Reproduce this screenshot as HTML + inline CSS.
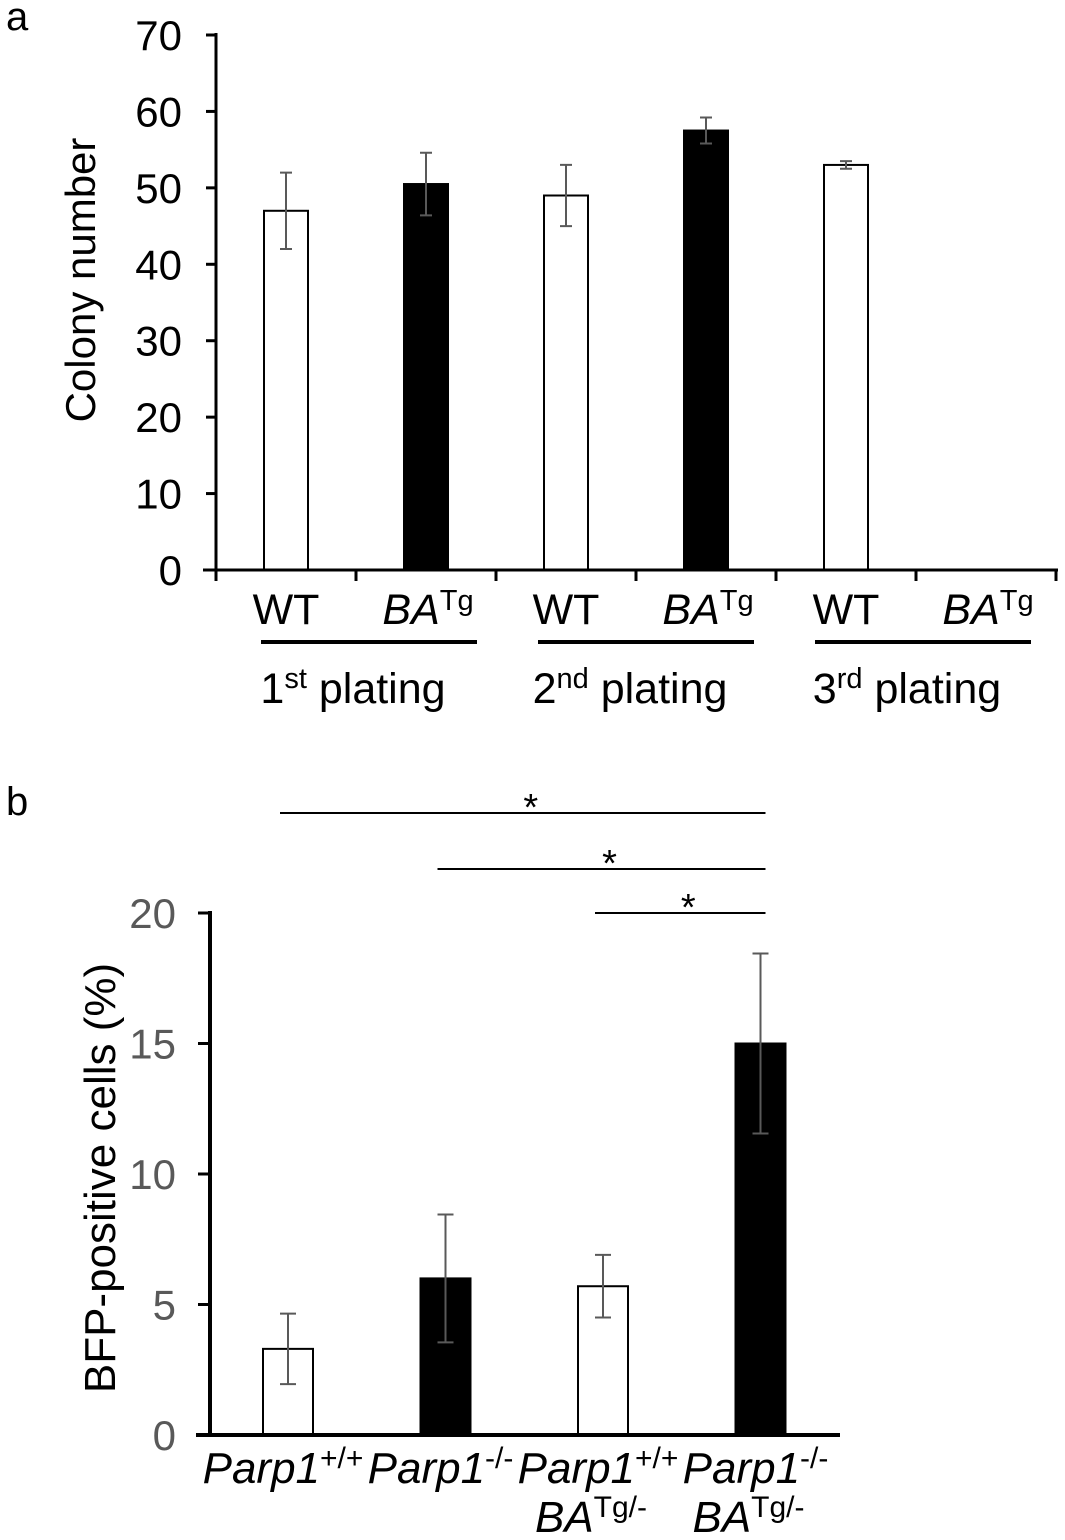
<!DOCTYPE html>
<html><head><meta charset="utf-8"><style>
body{margin:0;background:#fff;}
svg{display:block;font-family:"Liberation Sans",Arial,sans-serif;}
</style></head><body>
<svg width="1065" height="1540" viewBox="0 0 1065 1540">
<g id="pa"></g>
<g id="pb"></g>
</svg>
<script>
const aCats = ["WT","BA","WT","BA","WT","BA"];
const aVals = [47, 50.5, 49, 57.5, 53, 0];
const aErr = [5, 4.1, 4, 1.7, 0.5, 0];
const aFill = ["#fff","#000","#fff","#000","#fff","#000"];
const aTicks = [0,10,20,30,40,50,60,70];
const aGroups = ["1","2","3"];
const aSup = ["st","nd","rd"];

const bCats = ["+/+","-/-","+/+","-/-"];
const bVals = [3.3, 6.0, 5.7, 15.0];
const bErr = [1.35, 2.45, 1.2, 3.45];
const bFill = ["#fff","#000","#fff","#000"];
const bTicks = [0,5,10,15,20];
const bSig = [[0,3],[1,3],[2,3]];

const NS="http://www.w3.org/2000/svg";
function mk(p,t,a,txt){const e=document.createElementNS(NS,t);for(const k in a)e.setAttribute(k,a[k]);if(txt!==undefined)e.textContent=txt;p.appendChild(e);return e;}

// Panel A
const A=document.getElementById('pa');
const ay=v=>570-v*(535/70);
const ax=i=>286+i*140;
let t=mk(A,'text',{x:6,y:30,'font-size':40},'a');


aTicks.forEach(v=>{
 let l=mk(A,'line',{x1:206,x2:216,y1:ay(v),y2:ay(v),stroke:'#000','stroke-width':3});
 
 
 let tx=mk(A,'text',{x:182,y:ay(v)+15,'font-size':42,'text-anchor':'end'},String(v));
 
 
});
t=mk(A,'text',{x:0,y:0,'font-size':42,'text-anchor':'middle',transform:'translate(95,280) rotate(-90)'},'Colony number');


aVals.forEach((v,i)=>{
 if(v>0){
 let r=mk(A,'rect',{x:ax(i)-22,y:ay(v),width:44,height:ay(0)-ay(v),fill:aFill[i],stroke:'#000','stroke-width':2});
 
 
 const e=aErr[i],c=ax(i);
 let g=mk(A,'path',{d:`M${c},${ay(v+e)}V${ay(v-e)}M${c-6},${ay(v+e)}H${c+6}M${c-6},${ay(v-e)}H${c+6}`,stroke:'#595959','stroke-width':2,fill:'none'});
 
 
 }
 let lab;
 if(aCats[i]==='WT'){lab=mk(A,'text',{x:ax(i),y:624,'font-size':43,'text-anchor':'middle'},'WT');}
 else{lab=mk(A,'text',{x:ax(i)+2,y:624,'font-size':43,'text-anchor':'middle'});
  mk(lab,'tspan',{'font-style':'italic'},'BA');mk(lab,'tspan',{'font-size':29,dy:-14},'Tg');}
 
 
});
let ln=mk(A,'line',{x1:216,x2:216,y1:33,y2:572,stroke:'#000','stroke-width':3});


ln=mk(A,'line',{x1:203,x2:1058,y1:570,y2:570,stroke:'#000','stroke-width':3});


for(let k=0;k<=6;k++){
 let tk=mk(A,'line',{x1:216+k*140,x2:216+k*140,y1:570,y2:581,stroke:'#000','stroke-width':3});
 
 
}
aGroups.forEach((g,k)=>{
 const x0=261+k*277;
 let u=mk(A,'line',{x1:x0,x2:x0+216,y1:642,y2:642,stroke:'#000','stroke-width':4});
 
 
 let gt=mk(A,'text',{x:x0+92,y:703,'font-size':43,'text-anchor':'middle'});
 mk(gt,'tspan',{},g);mk(gt,'tspan',{'font-size':29,dy:-15},aSup[k]);mk(gt,'tspan',{dy:15},' plating');
 
 
});

// Panel B
const B=document.getElementById('pb');
const by=v=>1435-v*(522/20);
const bx=i=>288+i*157.5;
t=mk(B,'text',{x:6,y:815,'font-size':40},'b');


bTicks.forEach(v=>{
 let l=mk(B,'line',{x1:198,x2:210,y1:by(v),y2:by(v),stroke:'#000','stroke-width':3});
 
 
 let tx=mk(B,'text',{x:176,y:by(v)+15,'font-size':42,'text-anchor':'end',fill:'#595959'},String(v));
 
 
});
t=mk(B,'text',{x:0,y:0,'font-size':44,'text-anchor':'middle',transform:'translate(115,1178) rotate(-90)'},'BFP-positive cells (%)');


bVals.forEach((v,i)=>{
 let r=mk(B,'rect',{x:bx(i)-25,y:by(v),width:50,height:by(0)-by(v),fill:bFill[i],stroke:'#000','stroke-width':2});
 
 
 const e=bErr[i],c=bx(i);
 let g=mk(B,'path',{d:`M${c},${by(v+e)}V${by(v-e)}M${c-8},${by(v+e)}H${c+8}M${c-8},${by(v-e)}H${c+8}`,stroke:'#595959','stroke-width':2,fill:'none'});
 
 
 let lab=mk(B,'text',{x:c-5,y:1483,'font-size':44,'text-anchor':'middle','font-style':'italic'});
 mk(lab,'tspan',{},'Parp1');mk(lab,'tspan',{'font-size':30,dy:-15,'font-style':'normal'},bCats[i]);
 
 
 if(i>=2){
  let l2=mk(B,'text',{x:c-12,y:1532,'font-size':44,'text-anchor':'middle'});
  mk(l2,'tspan',{'font-style':'italic'},'BA');mk(l2,'tspan',{'font-size':30,dy:-15},'Tg/-');
  
  
 }
});
ln=mk(B,'line',{x1:210,x2:210,y1:911,y2:1437,stroke:'#000','stroke-width':4});


ln=mk(B,'line',{x1:196,x2:840,y1:1435,y2:1435,stroke:'#000','stroke-width':4});


const sigY=[813,869,913];
bSig.forEach((s,k)=>{
 const x1=bx(s[0])-8, x2=bx(s[1])+5;
 let l=mk(B,'line',{x1:x1,x2:x2,y1:sigY[k],y2:sigY[k],stroke:'#000','stroke-width':2});
 
 
 let st=mk(B,'text',{x:(x1+x2)/2+8,y:sigY[k]+7,'font-size':38,'text-anchor':'middle'},'*');
 
 
});
</script>
</body></html>
